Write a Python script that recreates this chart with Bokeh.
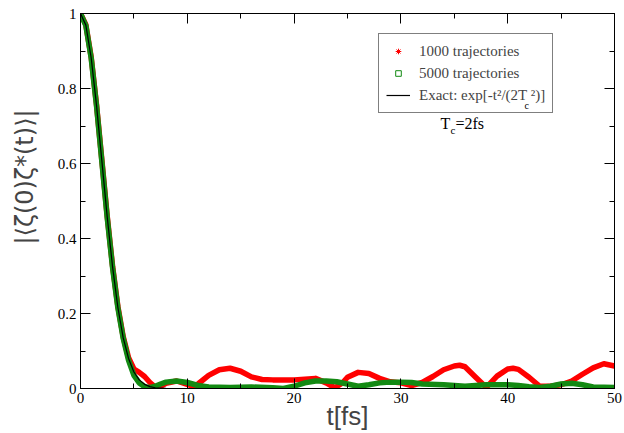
from bokeh.plotting import figure
from bokeh.models import (LinearAxis, Legend, LegendItem, Label, Range1d, FixedTicker,
                          CustomJSTickFormatter)
from bokeh.embed import file_html
from bokeh.resources import INLINE

# ---- data ----
t_exact = [0, 0.5, 1, 1.5, 2, 2.5, 3, 3.5, 4, 4.5, 5, 5.5, 6, 6.5, 7, 8, 10, 20, 30, 40, 50]
exact = [1.0, 0.969, 0.882, 0.755, 0.607, 0.458, 0.325, 0.216, 0.135, 0.080, 0.044,
         0.023, 0.011, 0.005, 0.002, 0.0003, 0, 0, 0, 0, 0]

t_1000 = [0, 0.5, 1, 1.5, 2, 2.5, 3, 3.5, 4, 4.5, 5, 5.5, 6, 6.5, 7, 7.5, 8, 9, 10, 10.5,
          11, 12, 13, 14, 15, 16, 17, 18, 19, 20, 21, 22, 23, 23.8, 24.5, 25, 26, 27, 28, 29,
          30, 31, 32, 33, 34, 35, 35.5, 36, 37, 38, 39, 40, 40.5, 41, 42, 43, 44, 45, 46, 47,
          48, 49, 50]
c_1000 = [1.0, 0.97, 0.884, 0.757, 0.609, 0.46, 0.327, 0.219, 0.138, 0.082,
          0.052, 0.043, 0.032, 0.016, 0.004, 0.006, 0.014, 0.02, 0.011, 0.006,
          0.012, 0.035, 0.05, 0.054, 0.046, 0.031, 0.024, 0.023, 0.023, 0.023,
          0.025, 0.027, 0.015, 0.002, 0.014, 0.03, 0.043, 0.04, 0.027, 0.018,
          0.015, 0.008, 0.016, 0.032, 0.05, 0.06, 0.062, 0.058, 0.03, 0.003,
          0.033, 0.052, 0.054, 0.051, 0.03, 0.006, 0.006, 0.01, 0.02, 0.038,
          0.055, 0.066, 0.06]

t_5000 = [0, 0.5, 1, 1.5, 2, 2.5, 3, 3.5, 4, 4.5, 5, 5.5, 6, 6.5, 7, 7.5, 8, 9, 10, 11,
          12, 14, 16, 18, 19, 20, 21, 22, 23, 24, 25, 26, 27, 28, 29, 30, 31, 32, 34, 36,
          38, 40, 41, 42, 43, 44, 45, 46, 47, 48, 50]
c_5000 = [1.0, 0.968, 0.881, 0.754, 0.605, 0.456, 0.323, 0.215, 0.134, 0.075,
          0.035, 0.015, 0.005, 0.002, 0.006, 0.012, 0.017, 0.02, 0.016, 0.008,
          0.004, 0.003, 0.004, 0.002, 0.0, 0.006, 0.015, 0.02, 0.02, 0.018,
          0.012, 0.006, 0.01, 0.015, 0.017, 0.017, 0.016, 0.012, 0.01, 0.006,
          0.01, 0.01, 0.008, 0.005, 0.003, 0.006, 0.012, 0.014, 0.01, 0.004,
          0.003]

x_ticks = [0, 10, 20, 30, 40, 50]
y_ticks = [0, 0.2, 0.4, 0.6, 0.8, 1]
x_minor = [v + 5 for v in x_ticks[:-1]]
y_minor = [round(v + 0.1, 1) for v in y_ticks[:-1]]

RED = "#ff0000"
GREEN = "#138a13"
TICK_FONT = "Liberation Serif"

# leading em spaces nudge the (rotated) title upward, as in the reference
Y_TITLE = "\u2003\u2003|⟨ζ(0)ζ*(t)⟩|"

p = figure(width=624, height=433, output_backend="svg", toolbar_location=None,
           x_range=Range1d(0, 50), y_range=Range1d(0, 1),
           min_border_left=80, min_border_right=10, min_border_top=13, min_border_bottom=45,
           x_axis_label="t[fs]", y_axis_label=Y_TITLE)
p.grid.visible = False
p.outline_line_color = "black"
p.outline_line_width = 1

xt = FixedTicker(ticks=x_ticks, minor_ticks=x_minor)
yt = FixedTicker(ticks=y_ticks, minor_ticks=y_minor)


def style_axis(ax, show_labels=True):
    ax.axis_line_color = "black"
    ax.major_tick_line_color = "black"
    ax.minor_tick_line_color = "black"
    ax.major_tick_in = 10
    ax.major_tick_out = 0
    ax.minor_tick_in = 5
    ax.minor_tick_out = 0
    ax.major_label_text_font = TICK_FONT
    ax.major_label_text_color = "black"
    if show_labels:
        ax.major_label_text_font_size = "15px"
        ax.major_label_standoff = 4
    else:
        ax.formatter = CustomJSTickFormatter(code="return ''")
        ax.major_label_text_font_size = "1px"
        ax.major_label_standoff = 0


p.xaxis.ticker = xt
p.yaxis.ticker = yt
style_axis(p.xaxis[0])
style_axis(p.yaxis[0])
p.yaxis.major_label_overrides = {0: "0", 1: "1"}
p.xaxis.axis_label_text_font = "Liberation Sans"
p.xaxis.axis_label_text_font_size = "26px"
p.xaxis.axis_label_text_font_style = "normal"
p.xaxis.axis_label_standoff = -5
p.yaxis.axis_label_text_font = "DejaVu Sans"
p.yaxis.axis_label_text_font_size = "24px"
p.yaxis.axis_label_text_font_style = "normal"
p.yaxis.axis_label_standoff = 16

top = LinearAxis(ticker=xt)
style_axis(top, False)
p.add_layout(top, "above")
right = LinearAxis(ticker=yt)
style_axis(right, False)
p.add_layout(right, "right")

# series
p.line(t_1000, c_1000, line_color=RED, line_width=5.5, line_join="round", line_cap="round")
r_sc = p.scatter(t_1000, c_1000, marker="asterisk", size=1, line_color=RED, line_width=1)
p.line(t_5000, c_5000, line_color=GREEN, line_width=5.5, line_join="round", line_cap="round")
g_sc = p.scatter(t_5000, c_5000, marker="square", size=1, line_color=GREEN, fill_color=None, line_width=1)
k_line = p.line(t_exact, exact, line_color="black", line_width=1.2)

legend = Legend(items=[
    LegendItem(label="1000 trajectories", renderers=[r_sc]),
    LegendItem(label="5000 trajectories", renderers=[g_sc]),
    LegendItem(label="Exact: exp[-t²/(2T ²)]", renderers=[k_line]),
], location=(298, 275))
legend.label_text_font = TICK_FONT
legend.label_text_font_size = "15px"
legend.label_height = 20
legend.glyph_height = 14
legend.glyph_width = 24
legend.label_standoff = 9
legend.padding = 7
legend.spacing = 2
legend.margin = 0
legend.border_line_color = "black"
legend.border_line_width = 1
legend.background_fill_alpha = 0
p.add_layout(legend, "center")

# subscript c of the legend's T
p.add_layout(Label(x=444, y=283, x_units="screen", y_units="screen", text="c",
                   text_font=TICK_FONT, text_font_size="10px", text_color="black",
                   text_baseline="alphabetic", level="overlay"))

# T_c = 2fs annotation
p.add_layout(Label(x=360, y=265, x_units="screen", y_units="screen", text="T",
                   text_font=TICK_FONT, text_font_size="16px", text_color="black",
                   text_baseline="alphabetic", level="overlay"))
p.add_layout(Label(x=370, y=259, x_units="screen", y_units="screen", text="c",
                   text_font=TICK_FONT, text_font_size="11px", text_color="black",
                   text_baseline="alphabetic", level="overlay"))
p.add_layout(Label(x=375, y=265, x_units="screen", y_units="screen", text="=2fs",
                   text_font=TICK_FONT, text_font_size="16px", text_color="black",
                   text_baseline="alphabetic", level="overlay"))

open("out.html", "w").write(file_html(p, INLINE))
